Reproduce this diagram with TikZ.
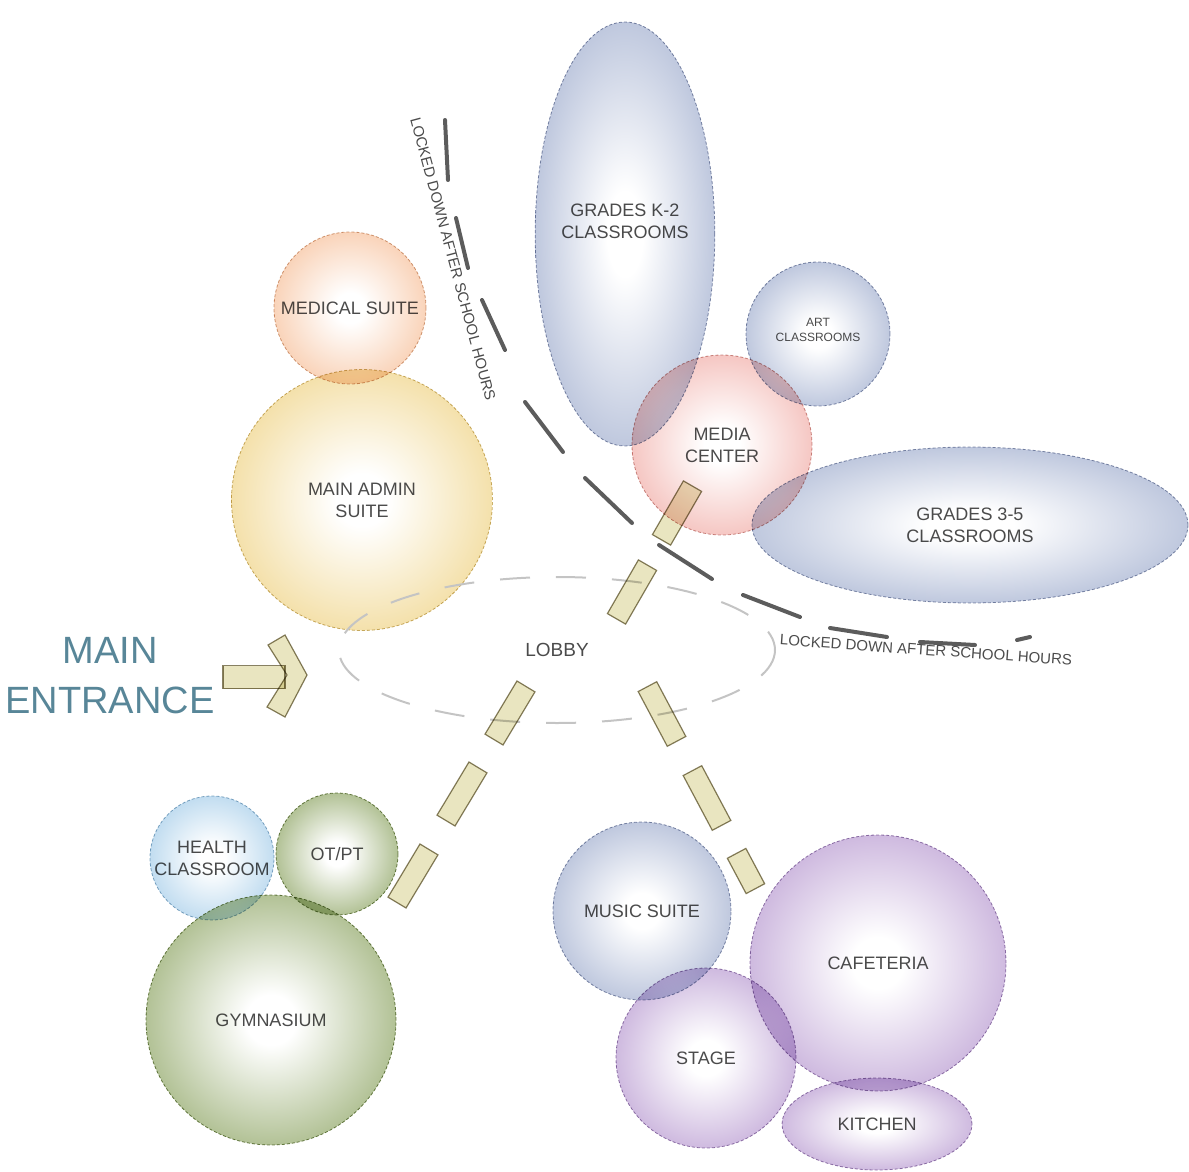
\documentclass[tikz,border=0pt]{standalone}
\usepackage{fontspec}
\setmainfont{Liberation Sans}
\usetikzlibrary{shapes.geometric}
\usetikzlibrary{calc}

\definecolor{inkgray}{RGB}{75,75,75}
\definecolor{entryteal}{RGB}{88,134,152}
\definecolor{admincol}{RGB}{238,208,125}
\definecolor{medcol}{RGB}{246,188,148}
\definecolor{classcol}{RGB}{156,170,204}
\definecolor{mediacol}{RGB}{240,168,162}
\definecolor{healthcol}{RGB}{160,202,232}
\definecolor{gymcol}{RGB}{136,160,92}
\definecolor{dinecol}{RGB}{180,148,206}
\definecolor{pathfill}{RGB}{233,229,192}
\definecolor{pathedge}{RGB}{135,128,98}
\definecolor{lockgray}{RGB}{92,92,92}
\definecolor{lobbygray}{RGB}{196,196,196}

% white core, colour towards the rim
\makeatletter
\pgfdeclareradialshading[tikz@radial@outer]{bubble}{\pgfpoint{0bp}{0bp}}{%
  color(0bp)=(white);color(5bp)=(white);color(36bp)=(tikz@radial@outer);color(50bp)=(tikz@radial@outer)}
\makeatother

\tikzset{
  roomtext/.style={font=\fontsize{18}{22}\selectfont, text=inkgray, align=center},
  bubble/.style={shade, outer color=#1, shading=bubble, draw=#1!85!black,
    dash pattern=on 3pt off 2pt, line width=0.8pt, blend mode=multiply,
    inner sep=0pt, roomtext},
  pathbox/.style={fill=pathfill, draw=pathedge, line width=1.2pt, blend mode=multiply},
  lockdash/.style={draw=lockgray, line width=4pt, line cap=round},
}

\begin{document}
\begin{tikzpicture}[x=1pt,y=-1pt]

\useasboundingbox (0,0) rectangle (1189,1172);

% admin wing
\node[bubble=medcol, circle, minimum size=152pt] (medical) at (350,308) {MEDICAL SUITE};
\node[bubble=admincol, circle, minimum size=261pt] (admin) at (362,500) {MAIN ADMIN\\SUITE};

% classroom wing
\node[bubble=classcol, ellipse, minimum width=154pt, minimum height=424pt] (k2) at (625,234) {GRADES K-2\\CLASSROOMS\\[4pt]};
\node[bubble=classcol, circle, minimum size=144pt, font=\fontsize{12}{15}\selectfont] (art) at (818,334) {ART\\CLASSROOMS\\[-6pt]};
\node[bubble=mediacol, circle, minimum size=180pt] (media) at (722,445) {MEDIA\\CENTER};
\node[bubble=classcol, ellipse, minimum width=436pt, minimum height=156pt] (g35) at (970,525) {GRADES 3-5\\CLASSROOMS};

% gym wing
\node[bubble=healthcol, circle, minimum size=124pt] (health) at (212,858) {HEALTH\\CLASSROOM};
\node[bubble=gymcol, circle, minimum size=122pt] (otpt) at (337,854) {OT/PT};
\node[bubble=gymcol, circle, minimum size=250pt] (gym) at (271,1020) {GYMNASIUM};

% dining wing
\node[bubble=classcol, circle, minimum size=178pt] (music) at (642,911) {MUSIC SUITE};
\node[bubble=dinecol, circle, minimum size=256pt] (cafe) at (878,963) {CAFETERIA};
\node[bubble=dinecol, circle, minimum size=180pt] (stage) at (706,1058) {STAGE};
\node[bubble=dinecol, ellipse, minimum width=190pt, minimum height=92pt] (kitchen) at (877,1124) {KITCHEN};

% lobby
\node[draw=lobbygray, ellipse, minimum width=436pt, minimum height=146pt,
  dash pattern=on 30pt off 26pt, dash phase=10pt, line width=2pt,
  roomtext, font=\fontsize{19}{22}\selectfont] (lobby) at (557,650) {LOBBY};

% entrance
\node[text=entryteal, align=center, font=\fontsize{38}{50}\selectfont] (entrance) at (110,676) {MAIN\\ENTRANCE};
\node[pathbox, minimum width=62pt, minimum height=23pt, inner sep=0pt] (shaft) at (254,677) {};
\filldraw[pathbox] (268,645) -- (285,635) -- (307,675) -- (285,717) -- (267,707) -- (287,675) -- cycle;

% walkways out of the lobby
\foreach \cx/\cy/\ang/\len [count=\i] in {677/513/60/62, 632/592/60/62,
    510/713/59/62, 462/794/59/62, 413/876/59/62,
    662/714/-62/62, 707/798/-62/62, 746/871/-62/40}
  \node[pathbox, rotate=\ang, minimum width=\len pt, minimum height=21pt, inner sep=0pt] (walk\i) at (\cx,\cy) {};

% locked-down line
\foreach \ax/\ay/\bx/\by in {445/120/448/180, 456/218/468/268, 482/300/505/350,
    525/402/563/452, 585/478/632/523, 659/545/712/579, 743/595/800/617,
    830/628/887/637, 920/642/975/645, 1017/640/1030/637}
  \draw[lockdash] (\ax,\ay) -- (\bx,\by);

\node[roomtext, font=\fontsize{15}{18}\selectfont, rotate=-75] (lockA) at (453,259) {LOCKED DOWN AFTER SCHOOL HOURS};
\node[roomtext, font=\fontsize{15}{18}\selectfont, rotate=-4] (lockB) at (926,650) {LOCKED DOWN AFTER SCHOOL HOURS};

\end{tikzpicture}
\end{document}
